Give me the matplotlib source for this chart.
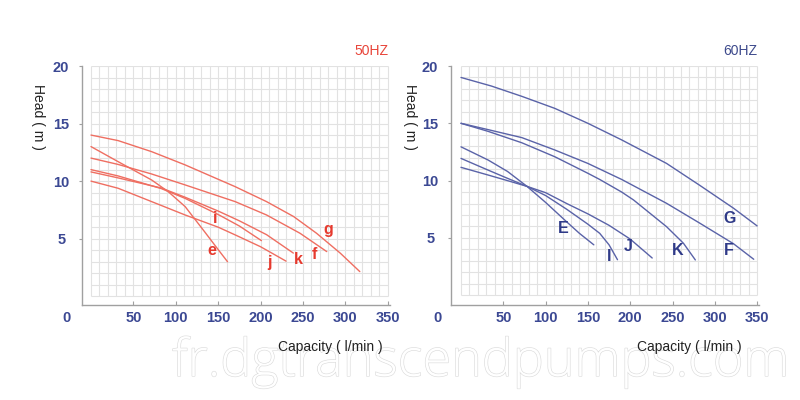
import numpy as np
import matplotlib
matplotlib.use("Agg")
import matplotlib.pyplot as plt
import matplotlib.patheffects as pe

# ---------------- data ----------------
x_ticks = [50, 100, 150, 200, 250, 300, 350]
y_ticks = [5, 10, 15, 20]

# 50 HZ curves (capacity l/min, head m)
hz50 = {
    "g": ([0, 32, 71.5, 111, 150, 170, 207, 239, 266, 294, 317],
          [14.0, 13.52, 12.56, 11.41, 10.16, 9.52, 8.22, 6.92, 5.47, 3.74, 2.14]),
    "f": ([0, 32, 71.5, 111, 150, 170, 207, 246.5, 278],
          [12.0, 11.45, 10.62, 9.67, 8.71, 8.22, 7.06, 5.47, 3.88]),
    "e": ([0, 32, 71.5, 91, 111, 134, 150, 161],
          [13.0, 11.69, 10.1, 9.09, 7.79, 5.6, 4.05, 3.0]),
    "i": ([0, 32, 83, 111, 150, 175, 201],
          [11.0, 10.45, 9.35, 8.5, 7.1, 6.1, 4.83]),
    "k": ([0, 32, 83, 111, 150, 175, 207, 238.6],
          [10.8, 10.28, 9.4, 8.6, 7.4, 6.55, 5.35, 3.75]),
    "j": ([0, 32, 71.5, 111, 150, 170, 200, 230],
          [10.0, 9.38, 8.22, 7.06, 6.0, 5.33, 4.3, 3.05]),
}
hz50_labels = {"g": (280, 5.82), "f": (264, 3.59), "k": (244.5, 3.15),
               "j": (210, 2.9), "i": (146, 6.77), "e": (142, 3.96)}

# 60 HZ curves
hz60 = {
    "G": ([0, 36, 72, 111, 150, 190, 243, 282, 322, 350],
          [19.0, 18.25, 17.35, 16.3, 15.0, 13.55, 11.5, 9.6, 7.6, 6.05]),
    "F": ([0, 32, 72, 111, 150, 190, 243, 282, 322, 346],
          [15.0, 14.45, 13.75, 12.67, 11.5, 10.1, 8.02, 6.3, 4.5, 3.14]),
    "K": ([0, 32, 72, 111, 150, 164, 190, 204, 243, 263, 277],
          [15.0, 14.3, 13.3, 12.08, 10.64, 10.1, 9.0, 8.31, 5.98, 4.53, 3.08]),
    "E": ([0, 32, 55, 78, 100, 125, 140, 157],
          [12.95, 11.8, 10.8, 9.5, 8.1, 6.4, 5.4, 4.4]),
    "I": ([0, 32, 55, 78, 100, 125, 150, 164, 175, 185],
          [11.94, 10.92, 10.2, 9.5, 8.7, 7.5, 6.2, 5.4, 4.4, 3.1]),
    "J": ([0, 32, 55, 78, 100, 125, 150, 175, 200, 226],
          [11.16, 10.49, 10.0, 9.5, 8.95, 8.0, 7.1, 6.1, 4.9, 3.25]),
}
hz60_labels = {"G": (317, 6.71), "F": (316, 3.89), "K": (255.7, 3.89),
               "J": (197.8, 4.24), "I": (175, 3.37), "E": (121, 5.84)}

# ---------------- style ----------------
plt.rcParams['font.family'] = ['Liberation Sans', 'DejaVu Sans']
tick_color = '#3b4893'
spine_color = '#a0a0a0'
grid_color = '#e2e2e2'
red_line = '#ef6e61'
red_text = '#e63a2e'
blue_line = '#5a63a8'
blue_text = '#2f3a88'

fig = plt.figure(figsize=(8, 4), dpi=100)
fig.patch.set_facecolor('white')

panels = [
    dict(rect=[82/800, 95/400, 307.5/800, 239/400], xlim=(-10.6, 352), ylim=(-0.76, 20),
         curves=hz50, labels=hz50_labels, lc=red_line, tc=red_text, title="50HZ",
         title_color='#e8453a', xlab_x=0.806, title_x=0.995, ylab_x=-0.143),
    dict(rect=[451/800, 95/400, 307.8/800, 239/400], xlim=(-11.8, 352), ylim=(-0.85, 20),
         curves=hz60, labels=hz60_labels, lc=blue_line, tc=blue_text, title="60HZ",
         title_color='#3d4a8c', xlab_x=0.773, title_x=0.994, ylab_x=-0.133),
]

for p in panels:
    ax = fig.add_axes(p['rect'])
    ax.set_xlim(*p['xlim'])
    ax.set_ylim(*p['ylim'])
    for s in ['top', 'right']:
        ax.spines[s].set_visible(False)
    for s in ['left', 'bottom']:
        ax.spines[s].set_color(spine_color)
        ax.spines[s].set_linewidth(1.0)

    # fine grid inside the chart area
    ax.vlines(np.arange(0, 351, 10), 0, 20, colors=grid_color, linewidth=0.8, zorder=0)
    ax.hlines(np.arange(0, 21, 1), 0, 350, colors=grid_color, linewidth=0.8, zorder=0)

    ax.set_xticks(x_ticks)
    ax.set_xticklabels([str(v) for v in x_ticks])
    ax.set_yticks(y_ticks)
    ax.set_yticklabels([str(v) for v in y_ticks])
    ax.tick_params(axis='x', direction='in', length=3, width=0.8, color=spine_color,
                   pad=4, labelsize=10.5, labelcolor=tick_color)
    ax.tick_params(axis='y', direction='out', length=2, width=0.8, color=spine_color,
                   pad=13, labelsize=10.5, labelcolor=tick_color)
    for lab in ax.get_xticklabels() + ax.get_yticklabels():
        lab.set_fontweight('bold')
    for lab in ax.get_yticklabels():
        lab.set_horizontalalignment('center')

    # corner "0"
    ax.annotate('0', xy=(-28.3, p['ylim'][0]), xycoords='data', xytext=(0, -4),
                textcoords='offset points', ha='center', va='top', fontsize=10.5,
                fontweight='bold', color=tick_color, annotation_clip=False)

    for name, (xs, ys) in p['curves'].items():
        ax.plot(xs, ys, color=p['lc'], linewidth=1.0, solid_capstyle='round',
                solid_joinstyle='round', zorder=3)
    for name, (lx, ly) in p['labels'].items():
        ax.text(lx, ly, name, color=p['tc'], fontsize=11.5, fontweight='bold',
                ha='center', va='center', zorder=4)

    ax.set_ylabel('Head ( m )', rotation=270, fontsize=10, color='#222222', va='center')
    ax.yaxis.set_label_coords(p['ylab_x'], 0.787)
    ax.set_xlabel('Capacity ( l/min )', fontsize=10, color='#222222', va='center')
    ax.xaxis.set_label_coords(p['xlab_x'], -0.176)
    ax.text(p['title_x'], 1.063, p['title'], transform=ax.transAxes, ha='right',
            va='center', fontsize=10, color=p['title_color'])

# watermark
fig.text(172/800, (400-376)/400, 'fr.dgtranscendpumps.com', fontsize=37.5,
         family=['Open Sans', 'DejaVu Sans'], fontweight='light', color='white',
         ha='left', va='baseline', zorder=-1,
         path_effects=[pe.Stroke(linewidth=0.9, foreground='#dcdcdc'), pe.Normal()])

fig.savefig('out.png', dpi=100, facecolor='white')
